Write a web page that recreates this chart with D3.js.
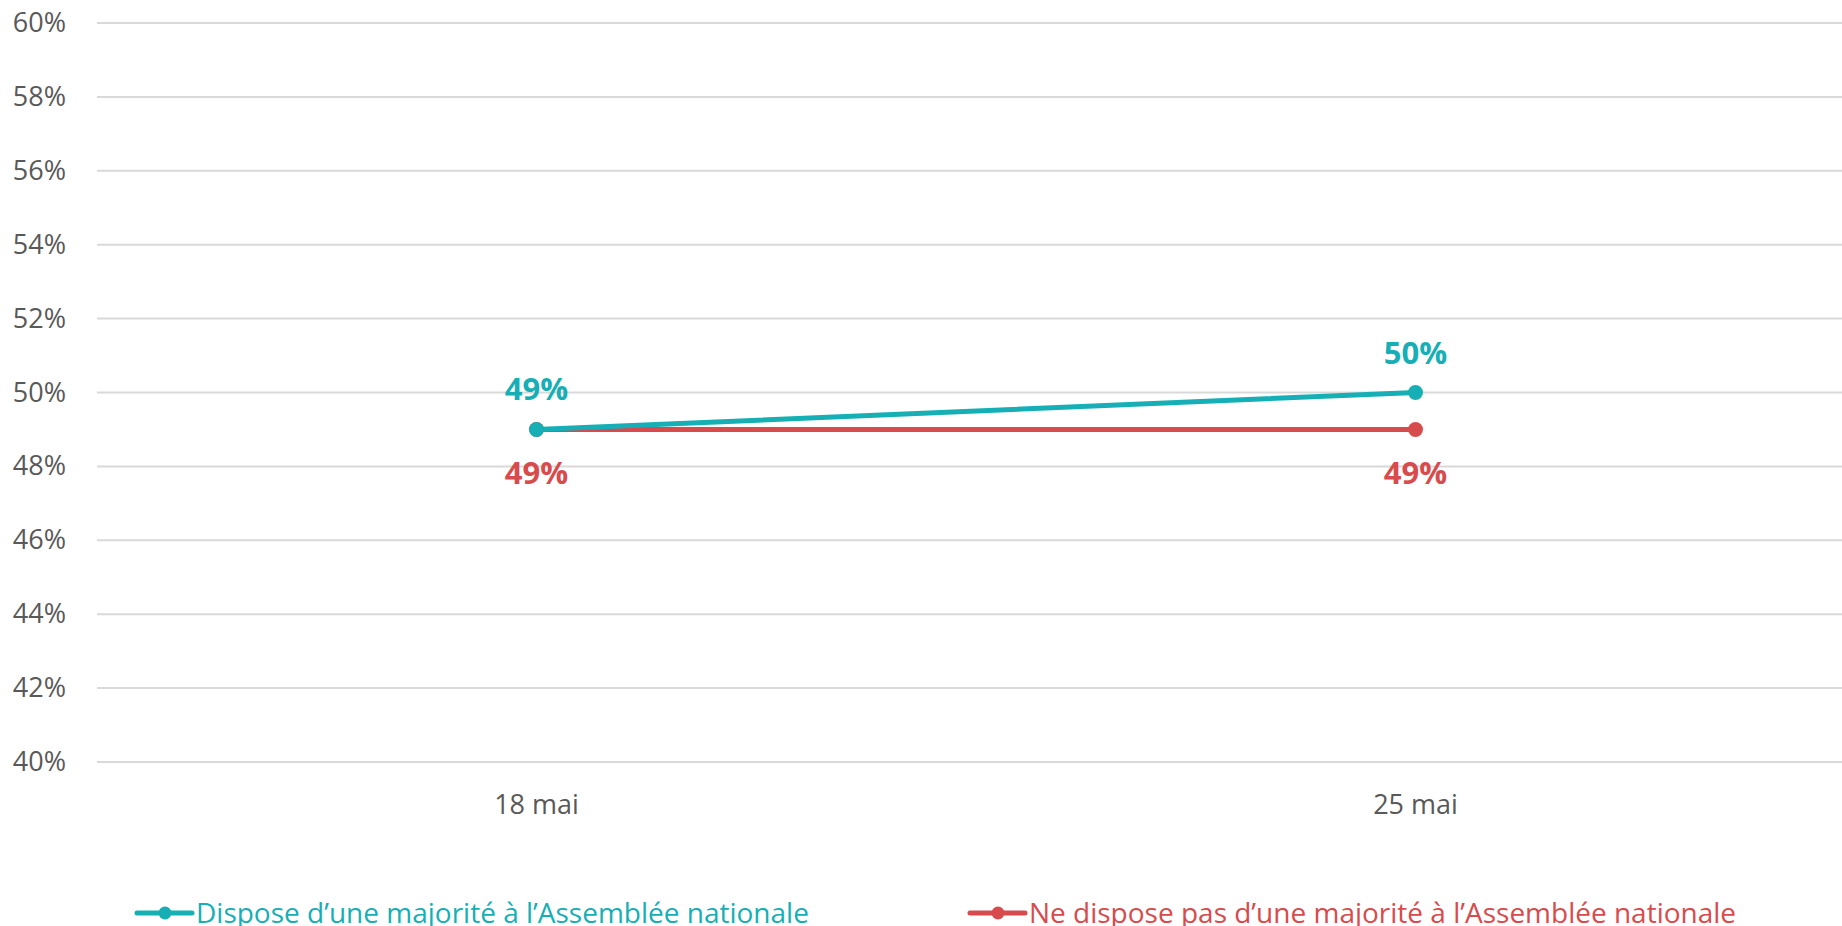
<!DOCTYPE html>
<html>
<head>
<meta charset="utf-8">
<title></title>
<style type="text/css">
    body{ margin:0; background:#fff; }
    svg{ display:block; font-family:"Open Sans", sans-serif; }
</style>
</head>
<body>
<div id="chart"></div>

<script src="https://cdn.jsdelivr.net/npm/d3@7"></script>
<script type="text/javascript">

    var categories = ['18 mai', '25 mai'];
    var seriesNames = ['Dispose d\u2019une majorit\u00e9 \u00e0 l\u2019Assembl\u00e9e nationale',
                       'Ne dispose pas d\u2019une majorit\u00e9 \u00e0 l\u2019Assembl\u00e9e nationale'];
    var majorite = [0.49, 0.50];
    var pasMajorite = [0.49, 0.49];
    var yTicks = [0.40, 0.42, 0.44, 0.46, 0.48, 0.50, 0.52, 0.54, 0.56, 0.58, 0.60];
    var colors = ['#16AFB5', '#D84B4D'];

    var width = 1842,
        height = 926,
        plotLeft = 97,
        plotTop = 23,
        plotBottom = 762;

    var svg = d3.select('#chart').append('svg')
        .attr('width', width)
        .attr('height', height);

    var x = d3.scaleBand().domain(categories).range([plotLeft, 1855]).padding(0);
    var y = d3.scaleLinear().domain([0.40, 0.60]).range([plotBottom, plotTop]);

    // grid lines
    svg.append('g').selectAll('line')
        .data(yTicks).enter().append('line')
        .attr('x1', plotLeft).attr('x2', width)
        .attr('y1', d => y(d)).attr('y2', d => y(d))
        .attr('stroke', '#D9D9D9').attr('stroke-width', 2);

    // y labels
    svg.append('g').selectAll('text')
        .data(yTicks).enter().append('text')
        .attr('x', 66).attr('y', d => y(d) + 9)
        .attr('text-anchor', 'end')
        .attr('font-size', 27).attr('fill', '#595959')
        .text(d => d3.format('.0%')(d));

    // x labels
    svg.append('g').selectAll('text')
        .data(categories).enter().append('text')
        .attr('x', d => x(d) + x.bandwidth() / 2).attr('y', 814)
        .attr('text-anchor', 'middle')
        .attr('font-size', 27).attr('fill', '#595959')
        .text(d => d);

    var series = [majorite, pasMajorite];
    var line = d3.line()
        .x((d, i) => x(categories[i]) + x.bandwidth() / 2)
        .y(d => y(d));

    // draw red first so teal sits above it
    [1, 0].forEach(function(s){
        var g = svg.append('g');
        g.append('path')
            .datum(series[s])
            .attr('d', line)
            .attr('fill', 'none')
            .attr('stroke', colors[s])
            .attr('stroke-width', 5)
            .attr('stroke-linecap', 'round');
        g.selectAll('circle')
            .data(series[s]).enter().append('circle')
            .attr('cx', (d, i) => x(categories[i]) + x.bandwidth() / 2)
            .attr('cy', d => y(d))
            .attr('r', 7.5)
            .attr('fill', colors[s]);
        g.selectAll('text')
            .data(series[s]).enter().append('text')
            .attr('x', (d, i) => x(categories[i]) + x.bandwidth() / 2)
            .attr('y', d => s == 0 ? y(d) - 29 : y(d) + 55)
            .attr('text-anchor', 'middle')
            .attr('font-size', 31).attr('font-weight', 'bold')
            .attr('fill', colors[s])
            .text(d => d3.format('.0%')(d));
    });

    // legend
    var legendX = [137, 970];
    var legend = svg.append('g').selectAll('g')
        .data(seriesNames).enter().append('g')
        .attr('transform', (d, i) => 'translate(' + legendX[i] + ',913)');
    legend.append('line')
        .attr('x1', 0).attr('x2', 55)
        .attr('stroke', (d, i) => colors[i])
        .attr('stroke-width', 5).attr('stroke-linecap', 'round');
    legend.append('circle')
        .attr('cx', 28).attr('r', 6.5)
        .attr('fill', (d, i) => colors[i]);
    legend.append('text')
        .attr('x', 59).attr('y', 10)
        .attr('font-size', 28)
        .attr('fill', (d, i) => colors[i])
        .text(d => d);

</script>
</body>
</html>
